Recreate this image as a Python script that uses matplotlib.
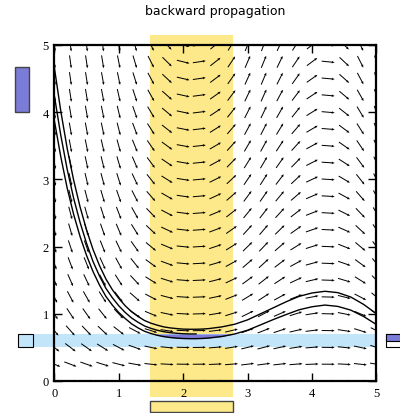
import numpy as np
import matplotlib
matplotlib.use("Agg")
import matplotlib.pyplot as plt
from matplotlib.patches import Rectangle

# direction field: y' = y * rate(x), one rate per column
col_x = [0.0, 0.25, 0.5, 0.75, 1.0, 1.25, 1.5, 1.75, 2.0, 2.25, 2.5,
         2.75, 3.0, 3.25, 3.5, 3.75, 4.0, 4.25, 4.5, 4.75, 5.0]
col_rate = [-1.55, -1.45, -1.35, -1.2, -1.0, -0.68, -0.4, -0.2, -0.05, 0.03, 0.16,
            0.3, 0.47, 0.5, 0.42, 0.3, 0.15, -0.02, -0.19, -0.4, -0.65]
row_y = [0.0, 0.25, 0.5, 0.75, 1.0, 1.25, 1.5, 1.75, 2.0, 2.25, 2.5,
         2.75, 3.0, 3.25, 3.5, 3.75, 4.0, 4.25, 4.5, 4.75, 5.0]

# solution curves
sol_x = [0.0, 0.1, 0.2, 0.3, 0.4, 0.5, 0.6, 0.7, 0.8, 0.9, 1.0, 1.1, 1.2, 1.3,
         1.4, 1.5, 1.6, 1.7, 1.8, 1.9, 2.0, 2.1, 2.2, 2.3, 2.4, 2.6, 2.8, 3.0,
         3.2, 3.4, 3.6, 3.8, 4.0, 4.2, 4.4, 4.6, 4.8, 5.0]
sol_upper = [4.67, 4.02, 3.46, 2.99, 2.59, 2.25, 1.96, 1.72, 1.52, 1.36, 1.23,
             1.12, 1.03, 0.96, 0.90, 0.86, 0.83, 0.805, 0.79, 0.78, 0.772,
             0.77, 0.77, 0.773, 0.78, 0.805, 0.845, 0.91, 1.00, 1.09, 1.18,
             1.26, 1.31, 1.335, 1.315, 1.25, 1.14, 1.0]
sol_lower = [3.88, 3.34, 2.87, 2.48, 2.15, 1.87, 1.63, 1.43, 1.26, 1.13, 1.02,
             0.93, 0.85, 0.79, 0.74, 0.706, 0.68, 0.66, 0.647, 0.638, 0.632,
             0.63, 0.63, 0.633, 0.64, 0.662, 0.70, 0.756, 0.835, 0.915, 0.99,
             1.06, 1.105, 1.13, 1.11, 1.055, 0.96, 0.84]
# curve touching the top of the target band, traced back to x = 0
back_x = [0.0, 0.1, 0.2, 0.3, 0.4, 0.5, 0.6, 0.7, 0.8, 0.9, 1.0, 1.1, 1.2, 1.3,
          1.4, 1.5, 1.6, 1.7, 1.8, 1.9, 2.0, 2.1, 2.2]
back_y = [4.25, 3.66, 3.15, 2.72, 2.36, 2.05, 1.78, 1.565, 1.38, 1.24, 1.12,
          1.02, 0.937, 0.874, 0.819, 0.783, 0.755, 0.733, 0.719, 0.71, 0.703,
          0.70, 0.70]

t_box = [1.48, 2.78]     # time window
y_box = [0.5, 0.7]       # target values
y0_box = [4.0, 4.67]     # initial values
y_out = [0.59, 0.7]      # contracted target

yellow = "#fde98a"
blue = "#c2e5fa"
purple = "#7b7bd8"

W, H = 400, 414
fig = plt.figure(figsize=(W / 100, H / 100), dpi=100)
ax_l, ax_b, ax_w, ax_h = 54.3 / W, 32 / H, 322.2 / W, 336 / H
ax = fig.add_axes([ax_l, ax_b, ax_w, ax_h])
ax.set_xlim(0, 5)
ax.set_ylim(0, 5)

# yellow time band and blue value band
ax.add_patch(Rectangle((t_box[0], -0.24), t_box[1] - t_box[0], 5.39,
                       facecolor=yellow, edgecolor="none", clip_on=False, zorder=0))
ax.add_patch(Rectangle((-0.33, y_box[0]), 5.33, y_box[1] - y_box[0],
                       facecolor=blue, edgecolor="none", clip_on=False, zorder=1))

# slope arrows, all the same length on screen
gx, gy = np.meshgrid(col_x, row_y)
gr = np.meshgrid(col_rate, row_y)[0]
slope = gy * gr
norm = np.hypot(1.0, slope)
ax.quiver(gx, gy, 1.0 / norm, slope / norm, angles="xy", scale_units="dots",
          scale=1 / 13.0, pivot="middle", units="dots", width=1.0,
          headwidth=2.6, headlength=3.0, headaxislength=2.7,
          color="black", zorder=2)

# purple part of the band reached by the tube
xs = np.array(sol_x)
lo = np.array(sol_lower)
inside = (xs >= t_box[0]) & (xs <= t_box[1])
ax.fill_between(xs, lo, y_box[1], where=(lo < y_box[1]) & inside,
                interpolate=True, color=purple, linewidth=0, zorder=3)

ax.plot(sol_x, sol_upper, color="black", lw=1.0, zorder=4)
ax.plot(sol_x, sol_lower, color="black", lw=1.0, zorder=4)
ax.plot(back_x, back_y, color="black", lw=1.0, zorder=4)

# interval boxes outside the frame
ax.add_patch(Rectangle((-0.61, y0_box[0]), 0.22, y0_box[1] - y0_box[0],
                       facecolor=purple, edgecolor="#444444", lw=1, clip_on=False))
ax.add_patch(Rectangle((-0.56, y_box[0]), 0.23, y_box[1] - y_box[0],
                       facecolor=blue, edgecolor="black", lw=0.8, clip_on=False))
ax.add_patch(Rectangle((5.15, y_box[0]), 0.5, y_box[1] - y_box[0],
                       facecolor="white", edgecolor="black", lw=0.8, clip_on=False))
ax.add_patch(Rectangle((5.15, y_out[0]), 0.5, y_out[1] - y_out[0],
                       facecolor=purple, edgecolor="black", lw=0.8, clip_on=False))
ax.add_patch(Rectangle((t_box[0], -0.46), t_box[1] - t_box[0], 0.16,
                       facecolor=yellow, edgecolor="#444444", lw=1, clip_on=False))

for sp in ax.spines.values():
    sp.set_linewidth(1.6)
    sp.set_zorder(5)
ax.set_xticks([0, 1, 2, 3, 4, 5])
ax.set_yticks([0, 1, 2, 3, 4, 5])
ax.tick_params(direction="in", length=6, width=1, top=True, right=True,
               labelsize=9, pad=4)
for lab in ax.get_xticklabels() + ax.get_yticklabels():
    lab.set_fontfamily("Liberation Serif")

fig.text(ax_l + ax_w / 2, 1 - 12 / H, "backward propagation",
         ha="center", va="center", fontsize=9)

fig.savefig("out.png", dpi=100)
